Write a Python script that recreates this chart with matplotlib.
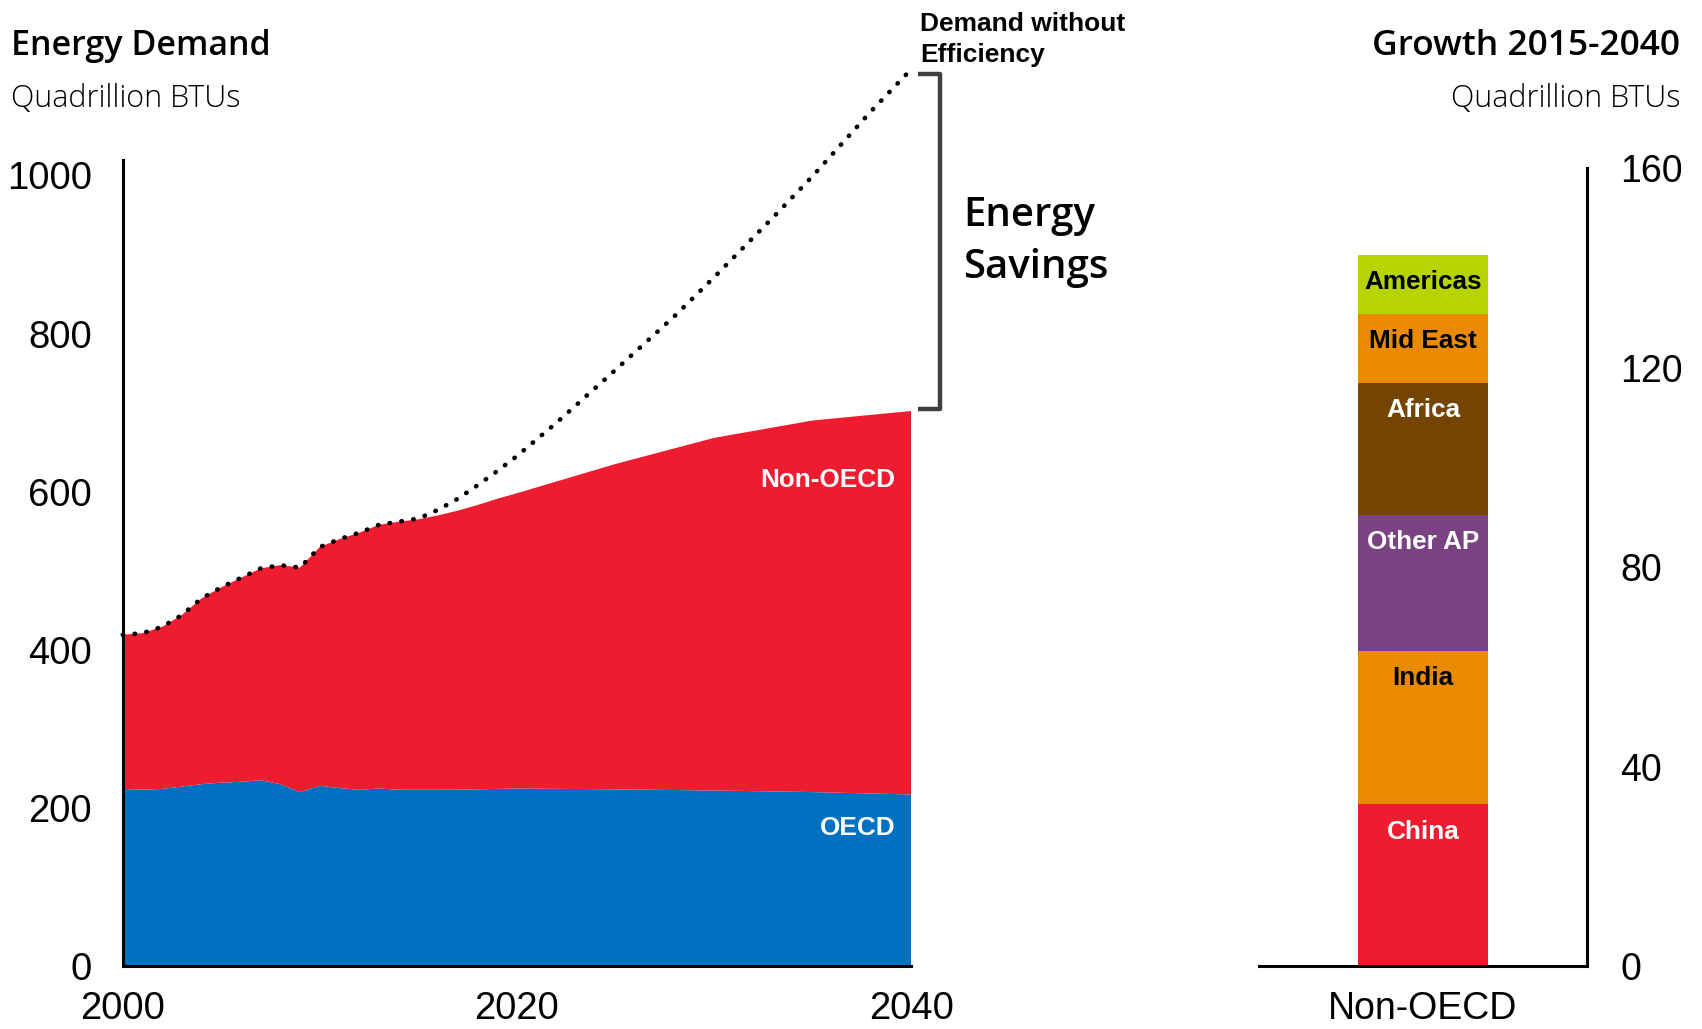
import matplotlib
matplotlib.use("Agg")
import matplotlib.pyplot as plt
import numpy as np

# ---------------- data ----------------
years = list(range(2000, 2020)) + [2020, 2025, 2030, 2035, 2040]
oecd = [224, 223, 224, 227, 230, 232, 233, 235, 230, 220, 228, 225, 223, 224.5,
        223, 223, 223, 223, 223.5, 224, 224.5, 223.5, 222, 220, 217]
non_oecd = [195, 198, 205, 217, 235, 247, 258, 268, 277, 284, 302, 315, 325, 333.5,
            339, 342, 347, 353, 359.5, 367, 373.5, 411.5, 446, 470, 485]

no_eff_years = [2015, 2016, 2017, 2018, 2019, 2020, 2022, 2025, 2028, 2030,
                2033, 2035, 2038, 2040]
no_eff = [566, 577, 591, 608, 626, 645, 687, 754, 822, 871, 947, 999, 1082, 1134]

left_yticks = [0, 200, 400, 600, 800, 1000]
left_xticks = [2000, 2020, 2040]

regions = ["China", "India", "Other AP", "Africa", "Mid East", "Americas"]
growth = [32.4, 30.8, 27.2, 26.5, 13.8, 11.8]
region_colors = ["#ED1C2E", "#EA8A00", "#7A4282", "#754400", "#EA8A00", "#B5D400"]
region_text = ["white", "black", "white", "white", "black", "black"]
right_yticks = [0, 40, 80, 120, 160]
bar_category = "Non-OECD"

RED = "#ED1C2E"
BLUE = "#0070C0"
TICKFONT = "Liberation Sans"
HEADFONT = "Open Sans"

fig = plt.figure(figsize=(17.02, 10.29), dpi=100)

# ---------------- left panel ----------------
ax = fig.add_axes([0.0721, 0.0612, 0.4632, 0.7837])
ax.stackplot(years, oecd, non_oecd, colors=[BLUE, RED], linewidth=0)
ax.set_xlim(2000, 2040)
ax.set_ylim(0, 1020)

total = [o + n for o, n in zip(oecd, non_oecd)]
hist_x = [y for y in years if y < 2015]
hist_y = [t for y, t in zip(years, total) if y < 2015]
ax.plot(hist_x + no_eff_years, hist_y + no_eff, color="black", lw=3.3,
        linestyle=(0, (0.1, 2.5)), dash_capstyle="round", clip_on=False, zorder=5)

for s in ["top", "right"]:
    ax.spines[s].set_visible(False)
for s in ["left", "bottom"]:
    ax.spines[s].set_linewidth(2.2)
    ax.spines[s].set_zorder(6)
ax.set_yticks(left_yticks)
ax.set_xticks(left_xticks)
ax.tick_params(axis="y", length=0, pad=22, labelsize=27.5)
ax.tick_params(axis="x", length=0, pad=18, labelsize=27.5)
for lab in ax.get_xticklabels() + ax.get_yticklabels():
    lab.set_family(TICKFONT)

ax.text(2039.2, 615, "Non-OECD", color="white", fontsize=18.8, fontweight="bold",
        family=TICKFONT, ha="right", va="center")
ax.text(2039.2, 175, "OECD", color="white", fontsize=18.8, fontweight="bold",
        family=TICKFONT, ha="right", va="center")

# bracket for energy savings
bx0, bx1 = 2040.36, 2041.47
btop, bbot = no_eff[-1] - 6, total[-1] + 2
ax.plot([bx0, bx1, bx1, bx0], [btop, btop, bbot, bbot], color="#404040", lw=3.2,
        solid_joinstyle="round", solid_capstyle="butt", clip_on=False, zorder=5)

fig.text(0.5658, 0.7647, "Energy\nSavings", fontsize=29, family=HEADFONT,
         fontweight="semibold", ha="left", va="center", linespacing=1.4)
fig.text(0.5408, 0.9615, "Demand without\nEfficiency", fontsize=19, fontweight="bold",
         family=TICKFONT, ha="left", va="center", linespacing=1.4)

# titles
fig.text(0.0065, 0.9557, "Energy Demand", fontsize=24.5, fontweight="semibold",
         family=HEADFONT, ha="left", va="center")
fig.text(0.0065, 0.904, "Quadrillion BTUs", fontsize=22, fontweight="light",
         family=HEADFONT, ha="left", va="center")
fig.text(0.9871, 0.9557, "Growth 2015-2040", fontsize=25.5, fontweight="semibold",
         family=HEADFONT, ha="right", va="center")
fig.text(0.9871, 0.904, "Quadrillion BTUs", fontsize=22, fontweight="light",
         family=HEADFONT, ha="right", va="center")

# ---------------- right panel ----------------
ax2 = fig.add_axes([0.7397, 0.0612, 0.1927, 0.7755])
bottom = 0.0
for name, val, col, tc in zip(regions, growth, region_colors, region_text):
    ax2.bar(0, val, bottom=bottom, width=0.793, color=col, linewidth=0)
    ax2.annotate(name, xy=(0, bottom + val), xytext=(0, -19.5), textcoords="offset points",
                 ha="center", va="center", color=tc, fontsize=18.8, fontweight="bold",
                 family=TICKFONT)
    bottom += val
ax2.set_xlim(-1, 1)
ax2.set_ylim(0, 160)
for s in ["top", "left"]:
    ax2.spines[s].set_visible(False)
for s in ["right", "bottom"]:
    ax2.spines[s].set_linewidth(2.2)
ax2.yaxis.tick_right()
ax2.set_yticks(right_yticks)
ax2.set_xticks([0])
ax2.set_xticklabels([bar_category])
ax2.tick_params(axis="y", length=0, pad=24, labelsize=27)
ax2.tick_params(axis="x", length=0, pad=18, labelsize=27)
for lab in ax2.get_xticklabels() + ax2.get_yticklabels():
    lab.set_family(TICKFONT)

fig.savefig("out.png", dpi=100)
